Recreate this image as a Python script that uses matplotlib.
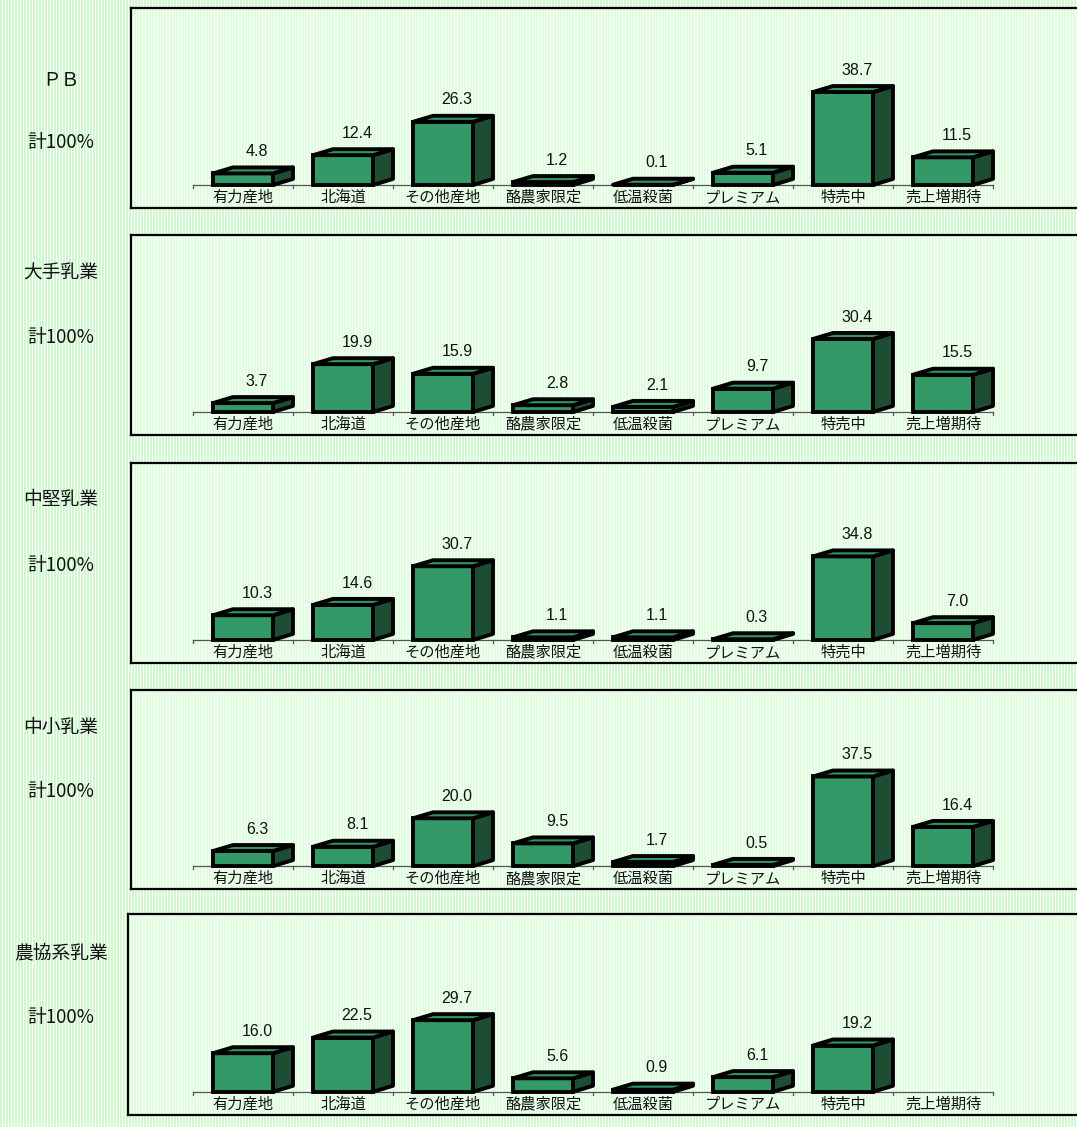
import numpy as np
import matplotlib.pyplot as plt
from matplotlib.patches import Polygon

plt.rcParams['font.family'] = ['Noto Sans CJK JP', 'DejaVu Sans']

categories = ['有力産地', '北海道', 'その他産地', '酪農家限定', '低温殺菌', 'プレミアム', '特売中', '売上増期待']
groups = ['ＰＢ', '大手乳業', '中堅乳業', '中小乳業', '農協系乳業']
total_label = '計100%'

pb = [4.8, 12.4, 26.3, 1.2, 0.1, 5.1, 38.7, 11.5]
major = [3.7, 19.9, 15.9, 2.8, 2.1, 9.7, 30.4, 15.5]
midsize = [10.3, 14.6, 30.7, 1.1, 1.1, 0.3, 34.8, 7.0]
small = [6.3, 8.1, 20.0, 9.5, 1.7, 0.5, 37.5, 16.4]
coop = [16.0, 22.5, 29.7, 5.6, 0.9, 6.1, 19.2, np.nan]
series = [pb, major, midsize, small, coop]

W, H = 1077, 1127
FRONT = '#339966'
SIDE = '#1d4d33'
TOP = '#329563'

# panel boxes in pixels: left, top, bottom ; plus y of the two left captions
panels = [
    (131, 8, 208, 80, 143),
    (131, 235, 435, 273, 338),
    (131, 463, 663, 500, 565),
    (131, 690, 889, 727, 792),
    (128, 914, 1115, 953, 1018),
]


def stripes(n, c1, c2):
    c1 = np.array(plt.matplotlib.colors.to_rgb(c1))
    c2 = np.array(plt.matplotlib.colors.to_rgb(c2))
    row = np.array([c2 if k % 3 == 2 else c1 for k in range(n)])
    return row[np.newaxis, :, :]


fig = plt.figure(figsize=(W / 100, H / 100), dpi=100)

# striped page background
bg = fig.add_axes([0, 0, 1, 1])
bg.imshow(stripes(W, '#cff8cf', '#ffffff'), aspect='auto', interpolation='nearest',
          extent=(0, 1, 0, 1))
bg.set_axis_off()

bw = 0.6   # front face width
dx = 0.2   # depth, x
dy = 2.5   # depth, y (value units)
lw = 2.8

for (left, top, bottom, y_name, y_tot), name, vals in zip(panels, groups, series):
    right = W + 4
    ax = fig.add_axes([left / W, 1 - bottom / H, (right - left) / W, (bottom - top) / H])
    x_left = -1.12 - (131 - left) / 100
    xlim = (x_left, x_left + (right - left) / 100)
    ylim = (-9.6, 73.7)
    ax.set_xlim(*xlim)
    ax.set_ylim(*ylim)
    ax.imshow(stripes(right - left, '#e0fde0', '#f6fff6'), aspect='auto',
              interpolation='nearest', extent=(*xlim, *ylim), zorder=0)
    for s in ax.spines.values():
        s.set_linewidth(1.6)
        s.set_color('black')
    ax.set_xticks([])
    ax.set_yticks([])

    # baseline with small boundary ticks
    ax.plot([-0.5, len(categories) - 0.5], [0, 0], color='#555555', lw=0.9, zorder=1)
    for b in np.arange(-0.5, len(categories), 1.0):
        ax.plot([b, b], [0, -1.2], color='#555555', lw=0.9, zorder=1)

    for i, (cat, v) in enumerate(zip(categories, vals)):
        ax.text(i, -1.6, cat, ha='center', va='top', fontsize=11, color='#111111', zorder=5)
        if np.isnan(v):
            continue
        l, r = i - bw / 2, i + bw / 2
        ax.bar(i, v, width=bw, color=FRONT, edgecolor='black', linewidth=lw, zorder=3)
        side = Polygon([(r, 0), (r + dx, dy), (r + dx, v + dy), (r, v)],
                       closed=True, facecolor=SIDE, edgecolor='black', lw=lw,
                       joinstyle='round', zorder=3)
        topf = Polygon([(l, v), (l + dx, v + dy), (r + dx, v + dy), (r, v)],
                       closed=True, facecolor=TOP, edgecolor='black', lw=lw,
                       joinstyle='round', zorder=3)
        ax.add_patch(side)
        ax.add_patch(topf)
        ax.annotate(f'{v:.1f}', (i + 0.14, v + dy), xytext=(0, 6),
                    textcoords='offset points', ha='center', va='bottom',
                    fontsize=11.5, family=['Liberation Sans', 'DejaVu Sans'],
                    color='#111111', zorder=5)

    fig.text(61 / W, 1 - y_name / H, name, ha='center', va='center', fontsize=13.5,
             color='#111111')
    fig.text(61 / W, 1 - y_tot / H, total_label, ha='center', va='center', fontsize=13.5,
             color='#111111')

fig.savefig('out.png', dpi=100)
